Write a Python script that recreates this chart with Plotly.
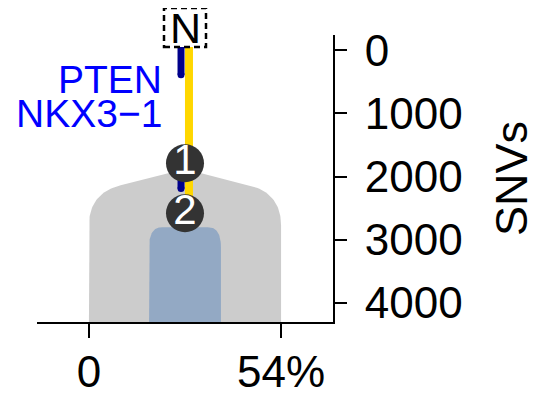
import numpy as np
import plotly.graph_objects as go

# ---------------- data ----------------
x_tick_vals = [0, 54]
x_tick_text = ["0", "54%"]
y_tick_vals = [0, 1000, 2000, 3000, 4000]
y_tick_text = ["0", "1000", "2000", "3000", "4000"]

tree_x = 27                    # centre of the tree
root_y = -50                   # normal (N) root
node_labels = ["1", "2"]
node_y = [1788, 2580]          # SNV position of clone nodes

clone_ccf = [54, 20.2]         # clone widths (CCF %)
clone_top = [1880, 2800]       # SNVs where each clone shape starts
clone_colors = ["#CCCCCC", "#93A9C4"]

trunk_end = 2580               # yellow branch
driver_genes = ["PTEN", "NKX3\u22121"]
driver_label_y = [450, 1000]
driver_marks = [(-50, 390), (1790, 2190)]

x_range = [-14.6, 68.6]
y_range = [4300, -240]

FONT = "Liberation Sans, Arial, Helvetica, sans-serif"


def qbez(p0, p1, p2, n=30):
    t = np.linspace(0, 1, n)[:, None]
    p0, p1, p2 = map(np.array, (p0, p1, p2))
    pts = (1 - t) ** 2 * p0 + 2 * (1 - t) * t * p1 + t ** 2 * p2
    return pts[:, 0].tolist(), pts[:, 1].tolist()


fig = go.Figure()

# clone 1 (grey) : pointed top with rounded shoulders
w = clone_ccf[0]
x0, x1 = tree_x - w / 2, tree_x + w / 2
top = clone_top[0]
bottom = y_range[0]
sh = 0.67 * (w / 2)              # shoulder start
slope = 256 / 18
ys = top + sh * slope
yc = ys + (w / 2 - sh) * slope
ye = yc + 510
xs, ysl = [], []
bx, by = qbez((x0, ye), (x0, yc), (tree_x - sh, ys))
xs += [x0] + bx
ysl += [bottom] + by
xs += [tree_x]
ysl += [top]
bx, by = qbez((tree_x + sh, ys), (x1, yc), (x1, ye))
xs += bx + [x1]
ysl += by + [bottom]
fig.add_trace(go.Scatter(x=xs, y=ysl, fill="toself", fillcolor=clone_colors[0],
                         mode="lines", line=dict(width=0), hoverinfo="skip",
                         showlegend=False))

# clone 2 (blue) : rounded rectangle top
w = clone_ccf[1]
x0, x1 = tree_x - w / 2, tree_x + w / 2
top = clone_top[1]
rx, ry = 3.7, 316
xs, ysl = [x0], [bottom]
bx, by = qbez((x0, top + ry), (x0, top), (x0 + rx, top))
xs += bx
ysl += by
bx, by = qbez((x1 - rx, top), (x1, top), (x1, top + ry))
xs += bx + [x1]
ysl += by + [bottom]
fig.add_trace(go.Scatter(x=xs, y=ysl, fill="toself", fillcolor=clone_colors[1],
                         mode="lines", line=dict(width=0), hoverinfo="skip",
                         showlegend=False))

# trunk (yellow)
off = 1.12
fig.add_trace(go.Scatter(x=[tree_x + off, tree_x + off], y=[root_y, trunk_end],
                         mode="lines", line=dict(color="#FFD700", width=8),
                         hoverinfo="skip", showlegend=False))

# driver marks (dark blue)
for (a, b) in driver_marks:
    fig.add_trace(go.Scatter(x=[tree_x - off, tree_x - off], y=[a, b],
                             mode="lines", line=dict(color="#00008B", width=7),
                             hoverinfo="skip", showlegend=False))
    fig.add_trace(go.Scatter(x=[tree_x - off], y=[b], mode="markers",
                             marker=dict(color="#00008B", size=7, line=dict(width=0)),
                             hoverinfo="skip", showlegend=False))

# nodes
fig.add_trace(go.Scatter(x=[tree_x] * len(node_y), y=node_y, mode="markers+text",
                         marker=dict(color="#333333", size=38, line=dict(width=0)),
                         text=node_labels, textposition="middle center",
                         textfont=dict(color="white", size=42, family=FONT),
                         cliponaxis=False, hoverinfo="skip", showlegend=False))

# driver gene labels
for g, yy in zip(driver_genes, driver_label_y):
    fig.add_annotation(x=21.2, y=yy, xref="x", yref="y", text=g, showarrow=False,
                       xanchor="right", yanchor="middle", height=34,
                       font=dict(color="#0000FF", size=39, family=FONT))

# N label with dashed box
fig.add_annotation(x=tree_x, y=root_y, xref="x", yref="y", text="N", showarrow=False,
                   xanchor="center", yanchor="middle", yshift=19, height=38,
                   font=dict(color="black", size=43, family=FONT))
px_x = (tree_x - x_range[0]) / (x_range[1] - x_range[0])
px_y = (y_range[0] - root_y) / (y_range[0] - y_range[1])
fig.add_shape(type="rect", xref="paper", yref="paper",
              xsizemode="pixel", ysizemode="pixel",
              xanchor=px_x, yanchor=px_y, x0=-21, x1=21, y0=0, y1=39,
              line=dict(color="black", width=2.5, dash="6px,4px"),
              fillcolor="rgba(0,0,0,0)", layer="above")

fig.update_layout(
    width=545, height=387,
    margin=dict(l=29, r=220, t=27, b=73),
    paper_bgcolor="white", plot_bgcolor="white",
    font=dict(family=FONT, color="black"),
    xaxis=dict(range=x_range, showgrid=False, zeroline=False, automargin=False,
               showline=True, linecolor="black", linewidth=2,
               ticks="outside", ticklen=14, tickwidth=2, tickcolor="black",
               tickvals=x_tick_vals, ticktext=x_tick_text,
               tickfont=dict(size=44, family=FONT, color="black"),
               ticklabelstandoff=-4),
    yaxis=dict(range=y_range, side="right", showgrid=False, zeroline=False,
               automargin=False,
               showline=True, linecolor="black", linewidth=2,
               ticks="outside", ticklen=12, tickwidth=2, tickcolor="black",
               tickvals=y_tick_vals, ticktext=y_tick_text,
               tickfont=dict(size=44, family=FONT, color="black"),
               ticklabelstandoff=9,
               title=dict(text="SNVs", font=dict(size=45, family=FONT, color="black"),
                          standoff=34)),
)

fig.write_html("out.html")
